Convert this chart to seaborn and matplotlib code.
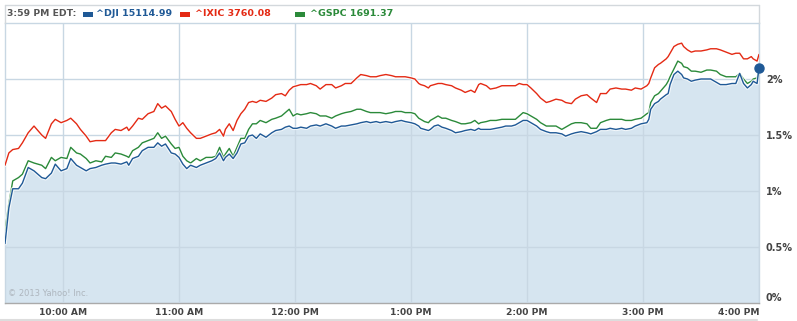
import matplotlib
matplotlib.use("Agg")
import matplotlib.pyplot as plt
import seaborn as sns
import pandas as pd
from matplotlib import patheffects as pe
from matplotlib.patches import Rectangle
from matplotlib.lines import Line2D

# ---------------- data (minutes after 9:30 AM, % change) ----------------
minutes = [0, 2, 4, 7, 9, 12, 15, 19, 21, 24, 26, 29, 32, 34, 37, 39, 42, 44, 47, 50, 52, 55, 57, 60,
           63, 64, 66, 69, 71, 74, 77, 79, 81, 83, 86, 88, 90, 92, 94, 96, 99, 101, 104, 107, 109, 111,
           113, 114, 116, 118, 120, 122, 124, 126, 128,
           130, 132, 135, 138, 140, 143, 145, 147, 149, 151, 153, 156, 158, 161, 163, 166, 169, 171, 174,
           176, 179, 182, 184, 187, 189,
           192, 194, 197, 200, 202, 205, 207, 210, 212, 214, 215, 217, 219, 220, 222, 224, 226, 228, 231,
           233, 236, 238, 241, 243, 245, 246, 249, 251, 254,
           257, 259, 262, 264, 266, 268, 270, 272, 275, 277, 280, 282, 285, 288, 290, 293, 295, 298, 301,
           303, 306, 308, 311, 313, 316, 319,
           321, 324, 326, 329, 332, 333, 334, 336, 338, 339, 342, 343, 344, 346, 348, 350, 351, 353, 355,
           357, 360, 363, 365, 368, 370, 373, 376, 378, 380, 382, 384, 386, 387, 389, 390]

ixic = [1.23, 1.34, 1.37, 1.38, 1.43, 1.52, 1.58, 1.50, 1.47, 1.60, 1.64, 1.61, 1.63, 1.65, 1.60, 1.55,
        1.49, 1.44, 1.45, 1.45, 1.45, 1.52, 1.55, 1.54,
        1.57, 1.54, 1.58, 1.65, 1.64, 1.69, 1.71, 1.78, 1.74, 1.76, 1.71, 1.64, 1.58, 1.61, 1.56, 1.52,
        1.47, 1.47, 1.49, 1.51, 1.52, 1.55, 1.49, 1.55, 1.60, 1.54, 1.63, 1.69, 1.73, 1.79, 1.80,
        1.79, 1.81, 1.80, 1.83, 1.86, 1.87, 1.85, 1.90, 1.93, 1.94, 1.95, 1.95, 1.96, 1.94, 1.91, 1.95,
        1.95, 1.92, 1.94, 1.96, 1.96, 2.01, 2.04, 2.03, 2.02,
        2.02, 2.03, 2.04, 2.03, 2.02, 2.02, 2.02, 2.01, 2.00, 1.96, 1.95, 1.94, 1.92, 1.94, 1.95, 1.96,
        1.96, 1.95, 1.94, 1.92, 1.90, 1.88, 1.90, 1.88, 1.95, 1.96, 1.94, 1.91, 1.92,
        1.94, 1.94, 1.94, 1.94, 1.96, 1.95, 1.95, 1.92, 1.87, 1.83, 1.79, 1.80, 1.82, 1.81, 1.79, 1.78,
        1.82, 1.85, 1.86, 1.83, 1.79, 1.87, 1.87, 1.91, 1.92, 1.91,
        1.91, 1.90, 1.92, 1.91, 1.94, 1.96, 2.01, 2.10, 2.13, 2.14, 2.18, 2.20, 2.23, 2.29, 2.31, 2.32,
        2.29, 2.26, 2.24, 2.25, 2.25, 2.26, 2.27, 2.27, 2.26, 2.24, 2.22, 2.23, 2.23, 2.18, 2.18, 2.20,
        2.18, 2.16, 2.22]

gspc = [0.65, 0.89, 1.09, 1.12, 1.15, 1.27, 1.25, 1.23, 1.20, 1.30, 1.27, 1.30, 1.29, 1.39, 1.34, 1.33,
        1.29, 1.25, 1.27, 1.26, 1.31, 1.30, 1.34, 1.33,
        1.31, 1.30, 1.36, 1.39, 1.43, 1.45, 1.47, 1.52, 1.47, 1.49, 1.42, 1.38, 1.39, 1.31, 1.27, 1.25,
        1.29, 1.27, 1.30, 1.30, 1.31, 1.39, 1.30, 1.33, 1.38, 1.31, 1.39, 1.47, 1.47, 1.55, 1.60,
        1.60, 1.63, 1.61, 1.64, 1.65, 1.67, 1.70, 1.73, 1.67, 1.69, 1.68, 1.69, 1.70, 1.69, 1.67, 1.67,
        1.65, 1.67, 1.69, 1.70, 1.71, 1.73, 1.73, 1.71, 1.70,
        1.70, 1.70, 1.69, 1.70, 1.71, 1.71, 1.70, 1.70, 1.69, 1.65, 1.64, 1.62, 1.61, 1.63, 1.65, 1.67,
        1.65, 1.65, 1.63, 1.62, 1.60, 1.60, 1.61, 1.63, 1.60, 1.61, 1.62, 1.63, 1.63,
        1.64, 1.64, 1.64, 1.64, 1.67, 1.70, 1.69, 1.67, 1.64, 1.61, 1.58, 1.58, 1.58, 1.55, 1.57, 1.60,
        1.61, 1.61, 1.60, 1.56, 1.56, 1.61, 1.63, 1.64, 1.64, 1.64,
        1.63, 1.63, 1.64, 1.65, 1.69, 1.70, 1.79, 1.85, 1.87, 1.89, 1.95, 1.98, 2.02, 2.09, 2.16, 2.14,
        2.11, 2.10, 2.07, 2.07, 2.06, 2.08, 2.08, 2.07, 2.04, 2.02, 2.02, 2.02, 2.05, 2.00, 1.96, 1.98,
        2.00, 2.01, 2.07]

dji = [0.53, 0.85, 1.02, 1.02, 1.07, 1.21, 1.18, 1.12, 1.11, 1.16, 1.24, 1.18, 1.20, 1.29, 1.23, 1.21,
       1.18, 1.20, 1.21, 1.23, 1.24, 1.25, 1.25, 1.24,
       1.26, 1.23, 1.29, 1.31, 1.36, 1.39, 1.39, 1.43, 1.40, 1.42, 1.34, 1.33, 1.30, 1.24, 1.20, 1.23,
       1.21, 1.23, 1.25, 1.27, 1.29, 1.34, 1.27, 1.30, 1.33, 1.29, 1.34, 1.42, 1.43, 1.49, 1.50,
       1.47, 1.51, 1.48, 1.52, 1.54, 1.55, 1.57, 1.58, 1.56, 1.56, 1.57, 1.56, 1.58, 1.59, 1.58, 1.60,
       1.58, 1.56, 1.58, 1.58, 1.59, 1.60, 1.61, 1.62, 1.61,
       1.62, 1.61, 1.62, 1.61, 1.62, 1.63, 1.62, 1.61, 1.60, 1.58, 1.56, 1.55, 1.54, 1.55, 1.58, 1.59,
       1.57, 1.56, 1.54, 1.52, 1.53, 1.54, 1.55, 1.54, 1.56, 1.55, 1.55, 1.55, 1.56,
       1.57, 1.58, 1.58, 1.59, 1.61, 1.63, 1.63, 1.61, 1.58, 1.55, 1.53, 1.52, 1.52, 1.51, 1.49, 1.51,
       1.52, 1.53, 1.52, 1.51, 1.53, 1.55, 1.55, 1.56, 1.55, 1.56,
       1.55, 1.56, 1.58, 1.60, 1.61, 1.64, 1.73, 1.78, 1.80, 1.82, 1.86, 1.87, 1.95, 2.04, 2.07, 2.04,
       2.01, 2.00, 1.98, 1.99, 2.00, 2.00, 2.00, 1.97, 1.95, 1.95, 1.96, 1.96, 2.05, 1.96, 1.92, 1.95,
       1.98, 1.96, 2.10]

symbols = ["^DJI", "^IXIC", "^GSPC"]
last_prices = ["15114.99", "3760.08", "1691.37"]
colors = {"^DJI": "#1F5996", "^IXIC": "#E42A14", "^GSPC": "#2B8A3A"}
time_label = "3:59 PM EDT:"
xtick_minutes = [30, 90, 150, 210, 270, 330, 390]
xtick_labels = ["10:00 AM", "11:00 AM", "12:00 PM", "1:00 PM", "2:00 PM", "3:00 PM", "4:00 PM"]
ytick_values = [0, 0.5, 1, 1.5, 2]
ytick_labels = ["0%", "0.5%", "1%", "1.5%", "2%"]

df = pd.concat([
    pd.DataFrame({"minute": minutes, "pct": dji, "symbol": "^DJI"}),
    pd.DataFrame({"minute": minutes, "pct": ixic, "symbol": "^IXIC"}),
    pd.DataFrame({"minute": minutes, "pct": gspc, "symbol": "^GSPC"}),
])

# ---------------- figure ----------------
sns.set_style("white")
plt.rcParams["font.family"] = ["DejaVu Sans"]

W, H = 797, 321
fig = plt.figure(figsize=(W / 100, H / 100), dpi=100)
ax = fig.add_axes([5 / W, 18 / H, 754 / W, 280 / H])

grid_c = "#C8D7E3"
ax.fill_between(minutes, dji, 0, color="#D6E5F0", linewidth=0, zorder=1)
sns.lineplot(data=df, x="minute", y="pct", hue="symbol",
             hue_order=["^IXIC", "^GSPC", "^DJI"], palette=colors,
             legend=False, ax=ax, linewidth=1.0, zorder=3)
for ln in ax.lines:
    ln.set_path_effects([pe.Stroke(linewidth=2.6, foreground="white", alpha=0.75), pe.Normal()])
ax.plot([minutes[-1]], [dji[-1]], "o", color=colors["^DJI"], ms=6.5, zorder=6, clip_on=False)

ax.set_xlim(0, 390)
ax.set_ylim(0, 2.5)
ax.set_xlabel("")
ax.set_ylabel("")
ax.set_xticks(xtick_minutes)
ax.set_xticklabels(xtick_labels)
ax.yaxis.tick_right()
ax.set_yticks(ytick_values)
ax.set_yticklabels(ytick_labels)
ax.tick_params(axis="both", length=0, colors="#444444")
ax.tick_params(axis="x", pad=3.5, labelsize=6.6)
ax.tick_params(axis="y", pad=5, labelsize=7)
for lab in ax.get_xticklabels() + ax.get_yticklabels():
    lab.set_fontweight("bold")
ax.get_yticklabels()[0].set_va("bottom")
ax.get_xticklabels()[-1].set_ha("right")

ax.grid(True, color=grid_c, linewidth=1)
ax.set_axisbelow(False)
for s in ["left", "right", "top"]:
    ax.spines[s].set_color(grid_c)
    ax.spines[s].set_linewidth(1)
ax.spines["bottom"].set_color("#AAAAAA")
ax.spines["bottom"].set_linestyle((0, (1, 1)))
ax.spines["bottom"].set_linewidth(1)

ax.text(3 / 754, 5 / 280, "\u00a9 2013 Yahoo! Inc.", transform=ax.transAxes,
        fontsize=6.0, color="#AEB6BE", va="bottom", ha="left", zorder=7)

# header frame
def fline(x0, y0, x1, y1, c="#D3D8DC", lw=1):
    fig.add_artist(Line2D([x0 / W, x1 / W], [1 - y0 / H, 1 - y1 / H],
                          transform=fig.transFigure, color=c, lw=lw))

fline(5, 5, 759, 5)
fline(5, 5, 5, 23)
fline(759, 5, 759, 23)
fline(0, 320, 757, 320, c="#DDDDDD", lw=1.5)

# header legend
fig.text(7 / W, 1 - 14 / H, time_label, fontsize=6.7, fontweight="bold",
         color="#555555", va="center", ha="left")
positions = [(83, 96), (180, 195), (295, 310)]
for sym, price, (sx, tx) in zip(symbols, last_prices, positions):
    fig.add_artist(Rectangle((sx / W, 1 - 16.5 / H), 10 / W, 5 / H,
                             transform=fig.transFigure, color=colors[sym], lw=0))
    fig.text(tx / W, 1 - 14 / H, f"{sym} {price}", fontsize=6.8, fontweight="bold",
             color=colors[sym], va="center", ha="left")

fig.savefig("out.png", dpi=100)
